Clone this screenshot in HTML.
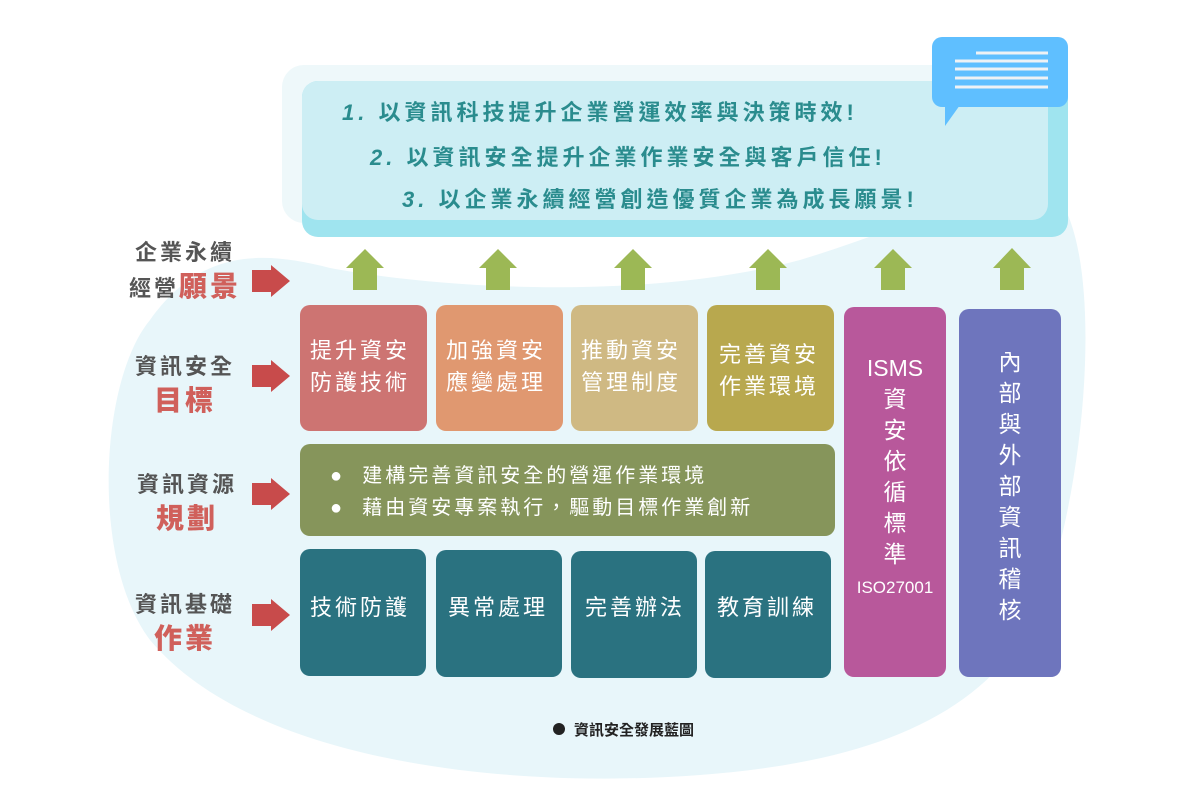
<!DOCTYPE html>
<html><head><meta charset="utf-8"><style>
body{margin:0;width:1200px;height:800px;background:#fff;position:relative;overflow:hidden;font-family:"Liberation Sans","Noto Sans CJK TC",sans-serif}
.a{position:absolute}
.box{position:absolute;border-radius:10px;color:#fff;font-size:22px;letter-spacing:3px;line-height:32px}
.lbl{position:absolute;width:140px;text-align:center;color:#555;font-size:22px;font-weight:bold;letter-spacing:3px;line-height:34px}
.lbl b{color:#d0605b;font-size:28px}
.t{position:absolute;color:#2a8c8e;font-size:22px;font-weight:bold;letter-spacing:4px}
</style></head><body>
<svg class="a" style="left:0;top:0" width="1200" height="800">
<path d="M150 320 C 200 250, 260 250, 330 268 C 450 290, 650 300, 800 260 C 900 230, 1000 180, 1060 200 C 1100 260, 1090 450, 1050 580 C 1010 700, 900 760, 700 775 C 500 790, 250 760, 150 640 C 90 560, 100 380, 150 320 Z" fill="#e8f6fa"/>
<rect x="282" y="65" width="770" height="158" rx="22" fill="#eef8fa"/>
<rect x="302" y="81" width="766" height="156" rx="16" fill="#9fe4ef"/>
<rect x="302" y="81" width="746" height="139" rx="16" fill="#cdeef4"/>
<rect x="932" y="37" width="136" height="70" rx="10" fill="#5fbfff"/>
<polygon points="945,105 960,105 945,126" fill="#5fbfff"/>
<g stroke="#eef2f5" stroke-width="3"><line x1="976" y1="53" x2="1048" y2="53"/><line x1="955" y1="61" x2="1048" y2="61"/><line x1="955" y1="69" x2="1048" y2="69"/><line x1="955" y1="78" x2="1048" y2="78"/><line x1="955" y1="87" x2="1048" y2="87"/></g>
<g fill="#9cb855">
<polygon points="346,268 365,249 384,268 377,268 377,290 353,290 353,268"/>
<polygon points="479,268 498,249 517,268 510,268 510,290 486,290 486,268"/>
<polygon points="614,268 633,249 652,268 645,268 645,290 621,290 621,268"/>
<polygon points="749,268 768,249 787,268 780,268 780,290 756,290 756,268"/>
<polygon points="874,268 893,249 912,268 905,268 905,290 881,290 881,268"/>
<polygon points="993,268 1012,248 1031,268 1024,268 1024,290 1000,290 1000,268"/>
</g>
<g fill="#c84b4b">
<polygon points="252,270 271,270 271,265 290,281 271,297 271,292 252,292"/>
<polygon points="252,365 271,365 271,360 290,376 271,392 271,387 252,387"/>
<polygon points="252,483 271,483 271,478 290,494 271,510 271,505 252,505"/>
<polygon points="252,604 271,604 271,599 290,615 271,631 271,626 252,626"/>
</g>
<circle cx="559" cy="729" r="6" fill="#222"/>
</svg>
<div class="t" style="left:342px;top:95px"><i>1.</i> 以資訊科技提升企業營運效率與決策時效!</div>
<div class="t" style="left:370px;top:140px"><i>2.</i> 以資訊安全提升企業作業安全與客戶信任!</div>
<div class="t" style="left:402px;top:182px"><i>3.</i> 以企業永續經營創造優質企業為成長願景!</div>
<div class="lbl" style="left:115px;top:236px">企業永續<br>經營<b>願景</b></div>
<div class="lbl" style="left:115px;top:350px">資訊安全<br><b>目標</b></div>
<div class="lbl" style="left:117px;top:468px">資訊資源<br><b>規劃</b></div>
<div class="lbl" style="left:115px;top:588px">資訊基礎<br><b>作業</b></div>
<div class="box" style="left:300px;top:305px;width:127px;height:126px;background:#cd7472;padding:30px 0 0 10px;box-sizing:border-box">提升資安<br>防護技術</div>
<div class="box" style="left:436px;top:305px;width:127px;height:126px;background:#e09870;padding:30px 0 0 10px;box-sizing:border-box">加強資安<br>應變處理</div>
<div class="box" style="left:571px;top:305px;width:127px;height:126px;background:#cfb983;padding:30px 0 0 10px;box-sizing:border-box">推動資安<br>管理制度</div>
<div class="box" style="left:707px;top:305px;width:127px;height:126px;background:#b8a84e;padding:34px 0 0 12px;box-sizing:border-box">完善資安<br>作業環境</div>
<div class="box" style="left:300px;top:444px;width:535px;height:92px;background:#86955b;padding:16px 0 0 30px;box-sizing:border-box;font-size:20px;line-height:32px">●&nbsp; 建構完善資訊安全的營運作業環境<br>●&nbsp; 藉由資安專案執行，驅動目標作業創新</div>
<div class="box" style="left:300px;top:549px;width:126px;height:127px;background:#2a7280;padding:43px 0 0 10px;box-sizing:border-box">技術防護</div>
<div class="box" style="left:436px;top:550px;width:126px;height:127px;background:#2a7280;padding:42px 0 0 12px;box-sizing:border-box">異常處理</div>
<div class="box" style="left:571px;top:551px;width:126px;height:127px;background:#2a7280;padding:41px 0 0 14px;box-sizing:border-box">完善辦法</div>
<div class="box" style="left:705px;top:551px;width:126px;height:127px;background:#2a7280;padding:41px 0 0 12px;box-sizing:border-box">教育訓練</div>
<div class="box" style="left:844px;top:307px;width:102px;height:370px;background:#b8589b;text-align:center;letter-spacing:0;padding-top:46px;box-sizing:border-box;line-height:31px;font-size:23px">ISMS<br>資<br>安<br>依<br>循<br>標<br>準<br><span style="font-size:17px">ISO27001</span></div>
<div class="box" style="left:959px;top:309px;width:102px;height:368px;background:#6e75bd;text-align:center;letter-spacing:0;padding-top:38px;box-sizing:border-box;line-height:31px;font-size:23px">內<br>部<br>與<br>外<br>部<br>資<br>訊<br>稽<br>核</div>
<div class="a" style="left:574px;top:719px;font-size:15px;font-weight:bold;color:#222">資訊安全發展藍圖</div>
</body></html>
